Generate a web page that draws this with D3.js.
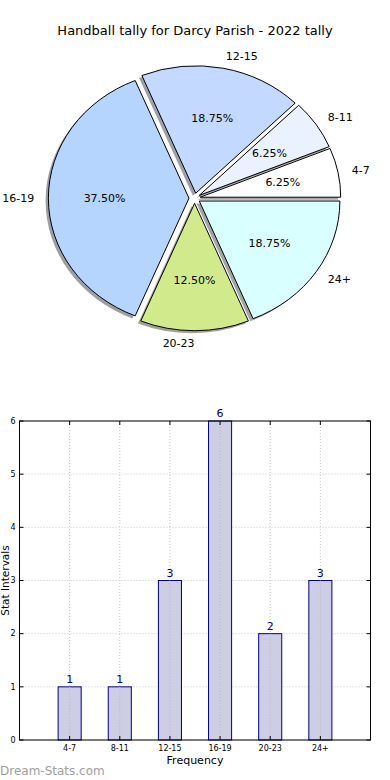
<!DOCTYPE html>
<html><head><meta charset="utf-8">
<script src="https://cdn.jsdelivr.net/npm/d3@7"></script>
<style>body{margin:0;background:#fff}svg{display:block;font-family:"DejaVu Sans",sans-serif}</style>
</head><body>
<svg id="c" width="390" height="780"></svg>
<script>
const categories = ["4-7","8-11","12-15","16-19","20-23","24+"];
const counts = [1,1,3,6,2,3];
const pieColors = ["#ffffff","#eaf1ff","#c4d9ff","#b5d5ff","#d1eb8c","#d9ffff"];
const yTicks = [0,1,2,3,4,5,6];
const title = "Handball tally for Darcy Parish - 2022 tally";

const svg = d3.select("#c");
const W = 390;

// ---------- Pie ----------
svg.append("text").attr("x", W/2).attr("y", 35).attr("text-anchor","middle")
  .attr("font-size", 13).attr("fill","#000").text(title);

const cx = 194.6, cy = 198.2, rx = 140.6, ry = 127.4, R = 100, ex = 0.04;
const total = d3.sum(counts);
const pie = d3.pie().sort(null).startAngle(Math.PI/2).endAngle(Math.PI/2 - 2*Math.PI);
const arcs = pie(counts);
const arc = d3.arc().innerRadius(0).outerRadius(R);
const sx = rx/R, sy = ry/R;

function center(a){
  const m = (a.startAngle + a.endAngle)/2;
  return [cx + ex*rx*Math.sin(m), cy - ex*ry*Math.cos(m), m];
}
function shade(c){
  const col = d3.color(c);
  return d3.rgb(0.5*255 + 0.5*0.3*col.r, 0.5*255 + 0.5*0.3*col.g, 0.5*255 + 0.5*0.3*col.b).toString();
}
const gp = svg.append("g");
arcs.forEach((a,i)=>{
  const [x,y] = center(a);
  gp.append("path").attr("d", arc(a))
    .attr("transform", `translate(${x - 0.02*rx},${y + 0.02*ry}) scale(${sx},${sy})`)
    .attr("fill", shade(pieColors[i])).attr("stroke", "none");
});
arcs.forEach((a,i)=>{
  const [x,y] = center(a);
  gp.append("path").attr("d", arc(a))
    .attr("transform", `translate(${x},${y}) scale(${sx},${sy})`)
    .attr("fill", pieColors[i]).attr("stroke", "#000")
    .attr("stroke-width", 1).attr("vector-effect","non-scaling-stroke");
});
arcs.forEach((a,i)=>{
  const [x,y,m] = center(a);
  const lx = x + 1.1*rx*Math.sin(m), ly = y - 1.1*ry*Math.cos(m);
  gp.append("text").attr("x", lx).attr("y", ly).attr("dy","0.35em")
    .attr("text-anchor", Math.sin(m) > 0 ? "start" : "end")
    .attr("font-size", 11).text(categories[i]);
  const px = x + 0.6*rx*Math.sin(m), py = y - 0.6*ry*Math.cos(m);
  gp.append("text").attr("x", px).attr("y", py).attr("dy","0.35em")
    .attr("text-anchor","middle").attr("font-size", 11)
    .text((counts[i]/total*100).toFixed(2) + "%");
});

// ---------- Bar chart ----------
const L = 19.5, Rt = 370.5, T = 421, B = 740;
const x = d3.scaleLinear().domain([-1, 6]).range([L, Rt]);
const y = d3.scaleLinear().domain([0, 6]).range([B, T]);
const g = svg.append("g");
const bw = x(0.46) - x(0);

categories.forEach((c,i)=>{
  g.append("line").attr("x1", x(i)).attr("x2", x(i)).attr("y1", T).attr("y2", B)
    .attr("stroke","#c8c8c8").attr("stroke-dasharray","1,2");
});
yTicks.forEach(t=>{
  g.append("line").attr("x1", L).attr("x2", Rt).attr("y1", y(t)).attr("y2", y(t))
    .attr("stroke","#c8c8c8").attr("stroke-dasharray","1,2");
});
counts.forEach((v,i)=>{
  g.append("rect").attr("x", x(i) - bw/2).attr("y", y(v)).attr("width", bw).attr("height", B - y(v))
    .attr("fill","#cdcde4").attr("stroke","#000080").attr("stroke-width",1);
  g.append("text").attr("x", x(i)).attr("y", y(v) - 4).attr("text-anchor","middle")
    .attr("font-size", 11).attr("fill","#000080").text(v);
});
categories.forEach((c,i)=>{
  g.append("line").attr("x1", x(i)).attr("x2", x(i)).attr("y1", y(counts[i])).attr("y2", B)
    .attr("stroke","#bbbbcc").attr("stroke-dasharray","1,2");
});
g.append("rect").attr("x", L).attr("y", T).attr("width", Rt-L).attr("height", B-T)
  .attr("fill","none").attr("stroke","#000").attr("stroke-width",1);
yTicks.forEach(t=>{
  g.append("line").attr("x1", L).attr("x2", L+4).attr("y1", y(t)).attr("y2", y(t)).attr("stroke","#000");
  g.append("line").attr("x1", Rt-4).attr("x2", Rt).attr("y1", y(t)).attr("y2", y(t)).attr("stroke","#000");
  g.append("text").attr("x", L-4).attr("y", y(t)).attr("dy","0.35em").attr("text-anchor","end")
    .attr("font-size", 8).text(t);
});
categories.forEach((c,i)=>{
  g.append("line").attr("x1", x(i)).attr("x2", x(i)).attr("y1", B).attr("y2", B-4).attr("stroke","#000");
  g.append("line").attr("x1", x(i)).attr("x2", x(i)).attr("y1", T).attr("y2", T+4).attr("stroke","#000");
  g.append("text").attr("x", x(i)).attr("y", B+11).attr("text-anchor","middle")
    .attr("font-size", 8).text(c);
});
g.append("text").attr("x", (L+Rt)/2).attr("y", 764).attr("text-anchor","middle")
  .attr("font-size", 11).text("Frequency");
g.append("text").attr("transform", `translate(8.5,${(T+B)/2}) rotate(-90)`).attr("text-anchor","middle")
  .attr("font-size", 10.5).text("Stat Intervals");
svg.append("text").attr("x", 0).attr("y", 775).attr("font-size", 12).attr("fill","#a0a0a0")
  .text("Dream-Stats.com");
</script>
</body></html>
